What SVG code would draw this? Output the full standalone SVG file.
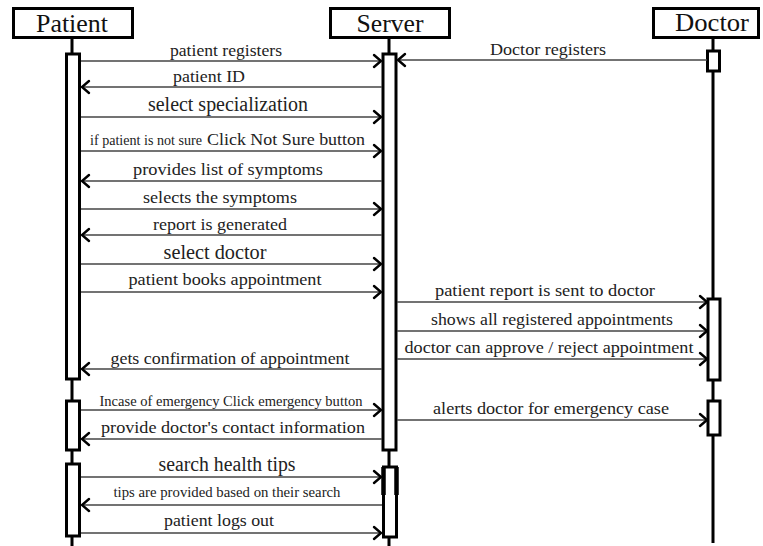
<svg xmlns="http://www.w3.org/2000/svg" width="763" height="546" viewBox="0 0 763 546">
  <style>
    text { font-family: "Liberation Serif", "Times New Roman", Times, Tinos, "DejaVu Serif", "Noto Serif", "Nimbus Roman", "FreeSerif", serif; }
    .head { fill: #fff; stroke: #000; stroke-width: 3; }
    .headtxt { font-size: 26px; fill: #111; text-anchor: middle; }
    .life { stroke: #000; stroke-width: 3; fill: none; }
    .act { fill: #fff; stroke: #000; stroke-width: 3; }
    .msg { stroke: #444; stroke-width: 1.3; fill: none; marker-end: url(#open); }
    .lbl { font-size: 17px; fill: #222; text-anchor: middle; }
    .big { font-size: 20px; }
    .small { font-size: 14px; }
  </style>
  <defs>
    <marker id="open" markerUnits="userSpaceOnUse" markerWidth="12" markerHeight="16" viewBox="-10 -8 12 16" refX="0" refY="0" orient="auto">
      <path d="M-7,-6 L0,0 L-7,6" fill="none" stroke="#000" stroke-width="2.4" stroke-linecap="round"/>
    </marker>
  </defs>
  <rect width="763" height="546" fill="#fff"/>

  <!-- lifelines -->
  <g id="lifelines">
    <line class="life" x1="72" y1="38" x2="72" y2="546"/>
    <line class="life" x1="389" y1="38" x2="389" y2="546"/>
    <line class="life" x1="713" y1="38" x2="713" y2="543"/>
  </g>

  <!-- Patient -->
  <g id="patient">
    <rect class="head" x="13.5" y="8.5" width="119" height="29"/>
    <text class="headtxt" x="72" y="32" textLength="72" lengthAdjust="spacingAndGlyphs">Patient</text>
    <rect class="act" x="66.5" y="54" width="13" height="325"/>
    <rect class="act" x="66.5" y="401" width="13" height="49"/>
    <rect class="act" x="66.5" y="464" width="13" height="72"/>
  </g>

  <!-- Server -->
  <g id="server">
    <rect class="head" x="330.5" y="8.5" width="119" height="29"/>
    <text class="headtxt" x="390" y="32" textLength="67" lengthAdjust="spacingAndGlyphs">Server</text>
    <rect class="act" x="383" y="54" width="13" height="396"/>
    <rect class="act" x="383.5" y="467" width="13" height="70"/>
    <path d="M383.5,467 V495 M396.5,467 V495" stroke="#000" stroke-width="4.5" fill="none"/>
  </g>

  <!-- Doctor -->
  <g id="doctor">
    <rect class="head" x="653.5" y="8.5" width="105" height="29"/>
    <text class="headtxt" x="712" y="31" textLength="74" lengthAdjust="spacingAndGlyphs">Doctor</text>
    <rect class="act" x="707.5" y="51" width="12" height="20"/>
    <rect class="act" x="708" y="299" width="12" height="81"/>
    <rect class="act" x="708" y="401" width="12" height="34"/>
  </g>

  <!-- messages -->
  <g id="connectors">
    <path class="msg" d="M81,61 H381"/>
    <path class="msg" d="M707,60 H398"/>
    <path class="msg" d="M382,87 H82"/>
    <path class="msg" d="M81,117 H381"/>
    <path class="msg" d="M81,151 H381"/>
    <path class="msg" d="M382,181 H82"/>
    <path class="msg" d="M81,209 H381"/>
    <path class="msg" d="M382,235 H82"/>
    <path class="msg" d="M81,264 H381"/>
    <path class="msg" d="M81,292 H381"/>
    <path class="msg" d="M397,302 H707"/>
    <path class="msg" d="M397,331 H707"/>
    <path class="msg" d="M397,359 H707"/>
    <path class="msg" d="M382,369 H82"/>
    <path class="msg" d="M81,410 H381"/>
    <path class="msg" d="M382,439 H82"/>
    <path class="msg" d="M397,420 H707"/>
    <path class="msg" d="M81,477 H381"/>
    <path class="msg" d="M382,505 H82"/>
    <path class="msg" d="M81,533 H381"/>
  </g>

  <!-- message labels -->
  <g id="labels">
    <text class="lbl" x="226" y="56" textLength="112" lengthAdjust="spacingAndGlyphs">patient registers</text>
    <text class="lbl" x="548" y="55" textLength="116" lengthAdjust="spacingAndGlyphs">Doctor registers</text>
    <text class="lbl" x="209" y="82" textLength="72" lengthAdjust="spacingAndGlyphs">patient ID</text>
    <text class="lbl big" x="228" y="111" textLength="160" lengthAdjust="spacingAndGlyphs">select specialization</text>
    <text class="lbl small" x="146" y="145" textLength="112" lengthAdjust="spacingAndGlyphs">if patient is not sure</text>
    <text class="lbl" x="286" y="145" font-size="18" textLength="158" lengthAdjust="spacingAndGlyphs">Click Not Sure button</text>
    <text class="lbl" x="228" y="175" textLength="190" lengthAdjust="spacingAndGlyphs">provides list of symptoms</text>
    <text class="lbl" x="220" y="203" textLength="154" lengthAdjust="spacingAndGlyphs">selects the symptoms</text>
    <text class="lbl" x="220" y="230" textLength="134" lengthAdjust="spacingAndGlyphs">report is generated</text>
    <text class="lbl big" x="215" y="259" textLength="103" lengthAdjust="spacingAndGlyphs">select doctor</text>
    <text class="lbl" x="225" y="285" textLength="193" lengthAdjust="spacingAndGlyphs">patient books appointment</text>
    <text class="lbl" x="545" y="296" textLength="220" lengthAdjust="spacingAndGlyphs">patient report is sent to doctor</text>
    <text class="lbl" x="552" y="325" textLength="242" lengthAdjust="spacingAndGlyphs">shows all registered appointments</text>
    <text class="lbl" x="549" y="353" textLength="289" lengthAdjust="spacingAndGlyphs">doctor can approve / reject appointment</text>
    <text class="lbl" x="230" y="364" textLength="239" lengthAdjust="spacingAndGlyphs">gets confirmation of appointment</text>
    <text class="lbl small" x="231" y="406" textLength="263" lengthAdjust="spacingAndGlyphs">Incase of emergency Click emergency button</text>
    <text class="lbl" x="551" y="414" textLength="236" lengthAdjust="spacingAndGlyphs">alerts doctor for emergency case</text>
    <text class="lbl" x="233" y="433" font-size="19" textLength="264" lengthAdjust="spacingAndGlyphs">provide doctor's contact information</text>
    <text class="lbl big" x="227" y="471" textLength="137" lengthAdjust="spacingAndGlyphs">search health tips</text>
    <text class="lbl small" x="227" y="497" textLength="227" lengthAdjust="spacingAndGlyphs">tips are provided based on their search</text>
    <text class="lbl" x="219" y="526" textLength="110" lengthAdjust="spacingAndGlyphs">patient logs out</text>
  </g>
</svg>
